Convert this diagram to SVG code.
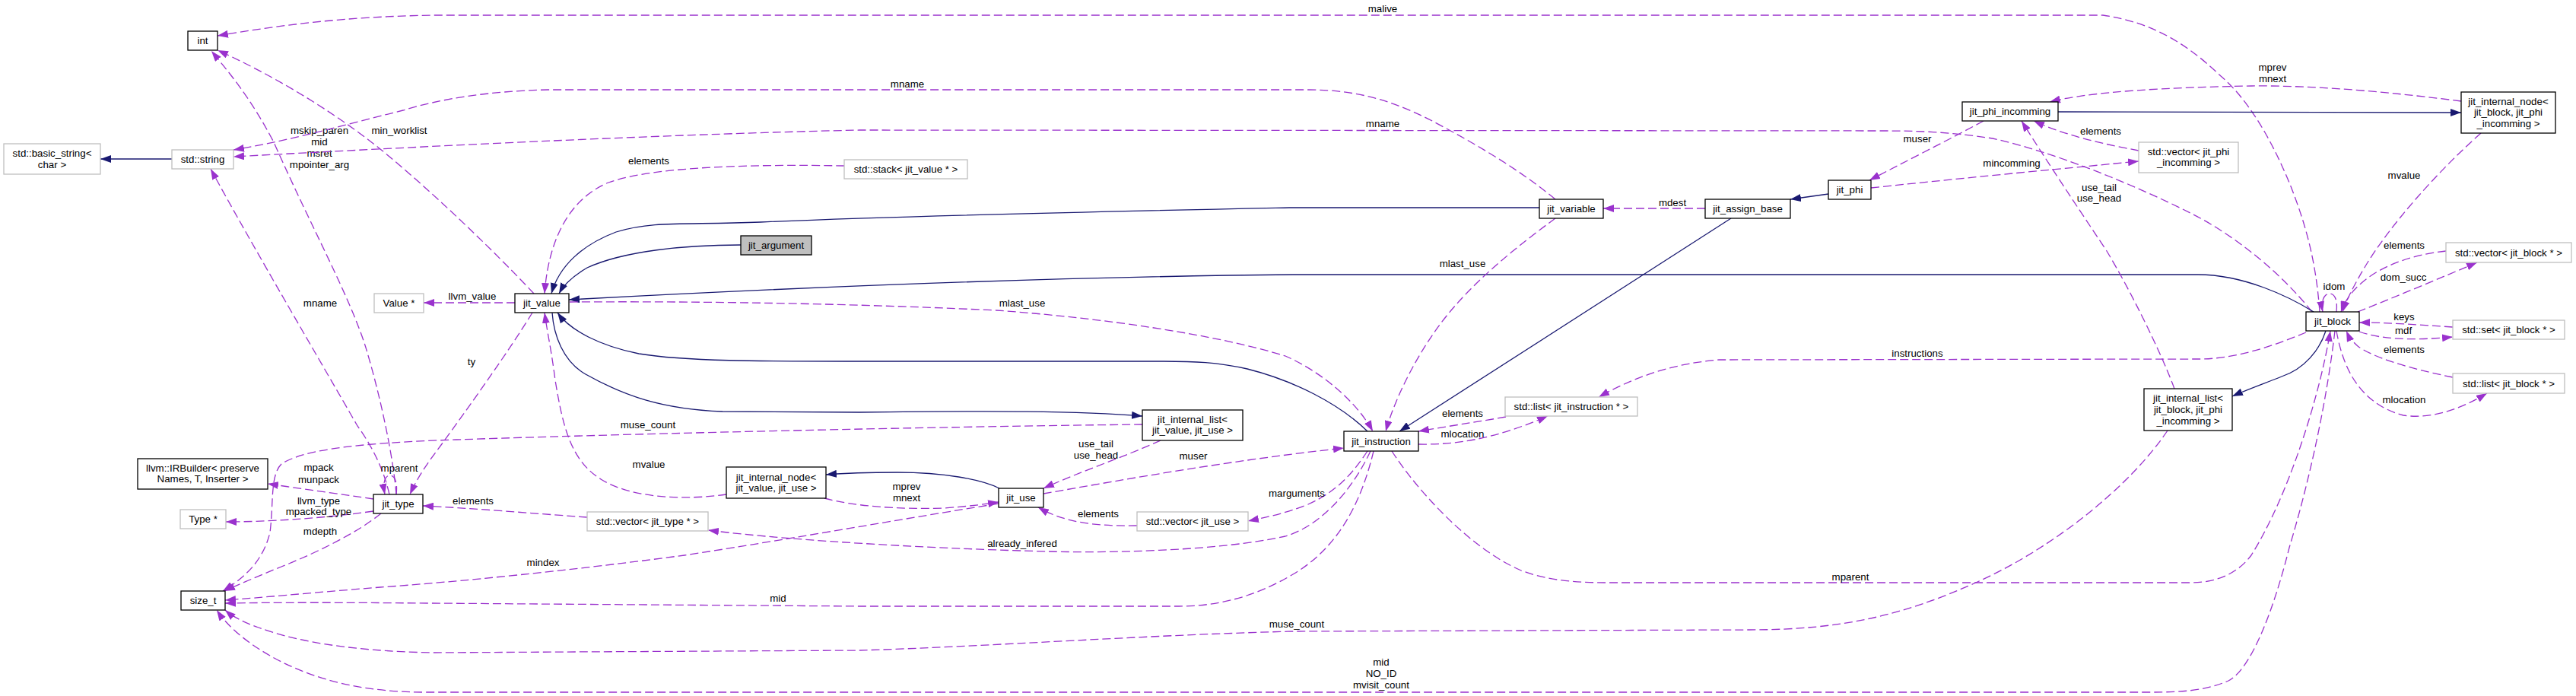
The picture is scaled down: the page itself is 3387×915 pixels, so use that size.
<svg xmlns="http://www.w3.org/2000/svg" width="3387" height="915" viewBox="0 0 3387 915">
<style>
text{font-family:"Liberation Sans",Arial,Helvetica,sans-serif;font-size:13.3px;fill:#000;text-anchor:middle}
.n{fill:#fff;stroke:#000;stroke-width:1.3}
.g{fill:#fff;stroke:#bfbfbf;stroke-width:1.3}
.f{fill:#bfbfbf;stroke:#000;stroke-width:1.3}
.d{fill:none;stroke:#9a32cd;stroke-width:1.3;stroke-dasharray:11,5;marker-end:url(#ap)}
.s{fill:none;stroke:#191970;stroke-width:1.3;marker-end:url(#an)}
</style>
<defs>
<marker id="ap" viewBox="0 0 14 10" refX="14" refY="5" markerWidth="14" markerHeight="10" markerUnits="userSpaceOnUse" orient="auto"><path d="M0,0L14,5L0,10z" fill="#9a32cd"/></marker>
<marker id="an" viewBox="0 0 14 10" refX="14" refY="5" markerWidth="14" markerHeight="10" markerUnits="userSpaceOnUse" orient="auto"><path d="M0,0L14,5L0,10z" fill="#191970"/></marker>
</defs>
<rect width="3387" height="915" fill="#fff"/>
<g id="connectors">
<path class="s" d="M226,209 L132,209"/>
<path class="d" d="M3050,410 C3045,340 3030,290 3010,240 C2985,180 2955,130 2920,100 C2880,62 2835,30 2765,20 L570,20 C450,22 370,33 286,47"/><text x="1818" y="16">malive</text>
<path class="d" d="M702,386 C640,320 560,245 500,196 C430,140 350,95 286,66"/><text x="525" y="176">min_worklist</text>
<path class="d" d="M521,650 C517,600 500,520 481,457 C460,390 410,300 360,187 C330,130 305,100 278,67"/><text x="420" y="176">mskip_paren</text><text x="420" y="191">mid</text><text x="420" y="206">msret</text><text x="420" y="221">mpointer_arg</text>
<path class="d" d="M2045,262 C2000,225 1950,195 1900,168 C1840,135 1790,118 1720,118 L720,118 C640,120 580,130 530,145 C450,165 380,185 307,197"/><text x="1193" y="115">mname</text>
<path class="d" d="M3040,410 C3000,360 2940,310 2880,280 C2800,240 2700,200 2620,182 C2560,173 2520,172 2476,172 L1130,171 C900,176 600,190 307,206"/><text x="1818" y="167">mname</text>
<path class="d" d="M677,398 L557,398"/><text x="621" y="394">llvm_value</text>
<path class="d" d="M1110,218 C1000,216 860,218 800,240 C740,265 720,330 716,386"/><text x="853" y="216">elements</text>
<path class="s" d="M2024,273 L1695,273 C1500,277 1200,283 1000,292 C900,296 860,290 810,305 C765,322 735,350 725,386"/>
<path class="s" d="M974,322 C900,322 820,330 772,352 C755,362 742,373 735,386"/>
<path class="s" d="M3042,410 C3010,390 2950,361 2890,361 L1700,361 C1400,364 1100,375 748,394"/>
<path class="s" d="M726,411 C728,440 740,475 770,492 C820,520 870,538 950,541 L1130,542 C1300,540 1420,540 1502,547"/>
<path class="s" d="M1798,567 C1760,530 1700,500 1640,485 C1600,476 1570,475 1530,475 L1130,475 C1000,475 900,475 840,465 C790,455 750,435 733,411"/>
<path class="d" d="M955,650 C900,658 830,655 790,630 C750,605 740,560 730,500 C725,460 720,440 716,411"/><text x="853" y="615">mvalue</text>
<path class="d" d="M700,411 C670,460 620,530 580,585 C565,605 550,625 539,650"/><text x="620" y="480">ty</text>
<path class="d" d="M749,397 C900,396 1100,398 1310,408 C1450,418 1600,440 1690,468 C1740,490 1785,530 1805,567"/><text x="1344" y="403">mlast_use</text>
<path class="d" d="M2045,287 C2000,320 1950,360 1915,400 C1870,450 1835,520 1822,567"/><text x="1923" y="351">mlast_use</text>
<path class="s" d="M2276,287 L1840,567"/>
<path class="d" d="M2242,274 L2108,274"/><text x="2199" y="271">mdest</text>
<path class="s" d="M2404,255 L2354,262"/>
<path class="d" d="M2608,159 C2560,185 2500,215 2458,237"/><text x="2521" y="187">muser</text>
<path class="d" d="M2460,247 C2600,232 2730,220 2812,212"/><text x="2645" y="219">mincomming</text>
<path class="d" d="M2812,198 C2770,190 2720,180 2674,159"/><text x="2762" y="177">elements</text>
<path class="s" d="M2706,147 L3236,148"/>
<path class="d" d="M3236,133 C3150,122 3050,112 2960,113 C2850,115 2750,120 2695,134"/><text x="2988" y="93">mprev</text><text x="2988" y="108">mnext</text>
<path class="d" d="M3262,175 C3200,230 3140,300 3110,350 C3095,375 3085,395 3080,410"/><text x="3161" y="235">mvalue</text>
<path class="d" d="M2859,511 C2840,460 2800,380 2770,330 C2730,270 2690,210 2658,159"/><text x="2760" y="251">use_tail</text><text x="2760" y="265">use_head</text>
<path class="s" d="M3058,435 C3050,460 3030,485 3000,495 C2975,505 2955,512 2935,521"/>
<path class="d" d="M3032,437 C3000,450 2950,470 2897,472 L2260,473 C2200,478 2150,495 2102,522"/><text x="2521" y="469">instructions</text>
<path class="d" d="M1980,548 C1940,555 1900,561 1865,567"/><text x="1923" y="548">elements</text>
<path class="d" d="M1865,584 C1920,585 1970,575 2035,547"/><text x="1923" y="575">mlocation</text>
<path class="d" d="M3072,410 C3074,393 3069,386 3063,386 C3056,386 3051,396 3054,410"/><text x="3069" y="381">idom</text>
<path class="d" d="M3100,410 C3150,390 3210,365 3257,345"/><text x="3160" y="369">dom_succ</text>
<path class="d" d="M3216,330 C3170,335 3130,350 3105,372 C3090,385 3082,398 3078,410"/><text x="3161" y="327">elements</text>
<path class="d" d="M3225,430 C3180,427 3140,424 3102,424"/><text x="3161" y="421">keys</text>
<path class="d" d="M3102,436 C3130,446 3170,448 3225,443"/><text x="3160" y="439">mdf</text>
<path class="d" d="M3225,496 C3170,485 3120,470 3100,455 C3092,448 3088,442 3085,435"/><text x="3161" y="464">elements</text>
<path class="d" d="M3072,435 C3080,480 3100,530 3160,546 C3200,552 3240,535 3270,517"/><text x="3161" y="530">mlocation</text>
<path class="d" d="M1830,593 C1860,640 1930,720 2000,750 C2040,765 2080,766 2120,766 L2880,766 C2920,766 2945,750 2960,730 C3010,650 3050,520 3064,435"/><text x="2433" y="763">mparent</text>
<path class="d" d="M3070,435 C3060,520 3040,620 3010,720 C2990,800 2960,880 2930,895 C2900,908 2870,910 2825,910 L560,910 C480,910 420,895 370,870 C330,850 300,825 285,802"/><text x="1816" y="875">mid</text><text x="1816" y="890">NO_ID</text><text x="1816" y="905">mvisit_count</text>
<path class="d" d="M2850,566 C2800,640 2700,720 2600,765 C2500,810 2420,828 2300,828 L1700,830 C1500,835 1300,850 1130,855 L570,858 C450,856 380,840 340,825 C320,818 305,810 296,802"/><text x="1705" y="825">muse_count</text>
<path class="d" d="M1502,558 C1300,560 900,568 600,578 C480,582 400,590 370,610 C355,625 360,660 355,700 C345,740 320,760 293,777"/><text x="852" y="563">muse_count</text>
<path class="d" d="M501,675 C470,700 420,725 370,745 C340,757 315,768 295,777"/><text x="421" y="703">mdepth</text>
<path class="d" d="M1313,662 C1200,680 1000,715 900,730 C750,750 600,765 500,772 C400,780 340,786 296,789"/><text x="714" y="744">mindex</text>
<path class="d" d="M1806,593 C1790,660 1760,720 1700,755 C1650,785 1600,797 1550,797 L1130,797 L565,793 C450,792 360,792 296,793"/><text x="1023" y="791">mid</text>
<path class="d" d="M1802,593 C1780,640 1740,690 1690,705 C1600,725 1450,727 1380,725 C1250,722 1050,712 931,697"/><text x="1344" y="719">already_infered</text>
<path class="d" d="M1798,593 C1780,620 1760,645 1720,663 C1690,675 1665,680 1641,685"/><text x="1705" y="653">marguments</text>
<path class="d" d="M772,680 C700,675 620,668 556,665"/><text x="622" y="663">elements</text>
<path class="d" d="M491,656 C450,650 400,643 352,636"/><text x="419" y="619">mpack</text><text x="419" y="635">munpack</text>
<path class="d" d="M491,672 C420,682 350,686 297,686"/><text x="419" y="663">llvm_type</text><text x="419" y="677">mpacked_type</text>
<path class="d" d="M1526,579 C1480,600 1420,620 1372,642"/><text x="1441" y="588">use_tail</text><text x="1441" y="603">use_head</text>
<path class="d" d="M1372,649 C1480,630 1620,605 1767,589"/><text x="1569" y="604">muser</text>
<path class="s" d="M1314,642 C1290,630 1240,621 1180,621 C1140,621 1110,622 1086,624"/>
<path class="d" d="M1084,655 C1120,665 1180,670 1240,668 C1270,666 1295,663 1313,660"/><text x="1192" y="644">mprev</text><text x="1192" y="659">mnext</text>
<path class="d" d="M1495,691 C1440,692 1400,687 1365,667"/><text x="1444" y="680">elements</text>
<path class="d" d="M512,650 C504,615 488,585 470,560 C430,490 330,320 277,222"/><text x="421" y="403">mname</text>
<path class="d" d="M521,650 C523,634 519,625 513,625 C506,625 503,634 506,650"/><text x="525" y="620">mparent</text>
</g>
<g id="n_int"><rect class="n" x="247" y="41" width="39" height="25"/><text x="266.5" y="58">int</text></g>
<g id="n_basic_string"><rect class="g" x="5" y="189" width="127" height="40"/><text x="68.5" y="205.5">std::basic_string&lt;</text><text x="68.5" y="220.5">char &gt;</text></g>
<g id="n_string"><rect class="g" x="226" y="197" width="81" height="25"/><text x="266.5" y="214">std::string</text></g>
<g id="n_Value"><rect class="g" x="492" y="386" width="65" height="25"/><text x="524.5" y="403">Value *</text></g>
<g id="n_jit_value"><rect class="n" x="677" y="386" width="71" height="25"/><text x="712.5" y="403">jit_value</text></g>
<g id="n_jit_argument"><rect class="f" x="974" y="310" width="93" height="25"/><text x="1020.5" y="327">jit_argument</text></g>
<g id="n_stack"><rect class="g" x="1110" y="210" width="162" height="25"/><text x="1191" y="227">std::stack&lt; jit_value * &gt;</text></g>
<g id="n_jit_variable"><rect class="n" x="2024" y="262" width="84" height="25"/><text x="2066" y="279">jit_variable</text></g>
<g id="n_jit_assign_base"><rect class="n" x="2242" y="262" width="112" height="25"/><text x="2298" y="279">jit_assign_base</text></g>
<g id="n_jit_phi"><rect class="n" x="2404" y="237" width="56" height="25"/><text x="2432" y="254">jit_phi</text></g>
<g id="n_jit_phi_incomming"><rect class="n" x="2580" y="134" width="126" height="25"/><text x="2643" y="151">jit_phi_incomming</text></g>
<g id="n_vec_phi"><rect class="g" x="2812" y="187" width="131" height="40"/><text x="2877.5" y="203.5">std::vector&lt; jit_phi</text><text x="2877.5" y="217.5">_incomming &gt;</text></g>
<g id="n_inode_block"><rect class="n" x="3236" y="121" width="124" height="54"/><text x="3298" y="137.5">jit_internal_node&lt;</text><text x="3298" y="152">jit_block, jit_phi</text><text x="3298" y="166.5">_incomming &gt;</text></g>
<g id="n_vec_block"><rect class="g" x="3216" y="319" width="165" height="26"/><text x="3298.5" y="336.5">std::vector&lt; jit_block * &gt;</text></g>
<g id="n_jit_block"><rect class="n" x="3032" y="410" width="70" height="25"/><text x="3067" y="427">jit_block</text></g>
<g id="n_set_block"><rect class="g" x="3225" y="421" width="147" height="25"/><text x="3298.5" y="438">std::set&lt; jit_block * &gt;</text></g>
<g id="n_list_block"><rect class="g" x="3225" y="491" width="147" height="26"/><text x="3298.5" y="508.5">std::list&lt; jit_block * &gt;</text></g>
<g id="n_ilist_block"><rect class="n" x="2819" y="511" width="116" height="55"/><text x="2877" y="527.5">jit_internal_list&lt;</text><text x="2877" y="542.5">jit_block, jit_phi</text><text x="2877" y="557.5">_incomming &gt;</text></g>
<g id="n_list_inst"><rect class="g" x="1979" y="522" width="174" height="25"/><text x="2066" y="539">std::list&lt; jit_instruction * &gt;</text></g>
<g id="n_jit_instruction"><rect class="n" x="1767" y="567" width="98" height="26"/><text x="1816" y="584.5">jit_instruction</text></g>
<g id="n_ilist_value"><rect class="n" x="1502" y="539" width="132" height="40"/><text x="1568" y="555.5">jit_internal_list&lt;</text><text x="1568" y="569.5">jit_value, jit_use &gt;</text></g>
<g id="n_jit_use"><rect class="n" x="1313" y="642" width="59" height="25"/><text x="1342.5" y="659">jit_use</text></g>
<g id="n_vec_use"><rect class="g" x="1495" y="673" width="146" height="25"/><text x="1568" y="690">std::vector&lt; jit_use &gt;</text></g>
<g id="n_inode_value"><rect class="n" x="955" y="614" width="131" height="41"/><text x="1020.5" y="631.5">jit_internal_node&lt;</text><text x="1020.5" y="645.5">jit_value, jit_use &gt;</text></g>
<g id="n_vec_type"><rect class="g" x="772" y="673" width="159" height="25"/><text x="851.5" y="690">std::vector&lt; jit_type * &gt;</text></g>
<g id="n_jit_type"><rect class="n" x="491" y="650" width="65" height="25"/><text x="523.5" y="667">jit_type</text></g>
<g id="n_irbuilder"><rect class="n" x="181" y="603" width="171" height="40"/><text x="266.5" y="619.5">llvm::IRBuilder&lt; preserve</text><text x="266.5" y="633.5">Names, T, Inserter &gt;</text></g>
<g id="n_Type"><rect class="g" x="237" y="670" width="60" height="25"/><text x="267" y="687">Type *</text></g>
<g id="n_size_t"><rect class="n" x="238" y="777" width="58" height="25"/><text x="267" y="794">size_t</text></g>
</svg>
